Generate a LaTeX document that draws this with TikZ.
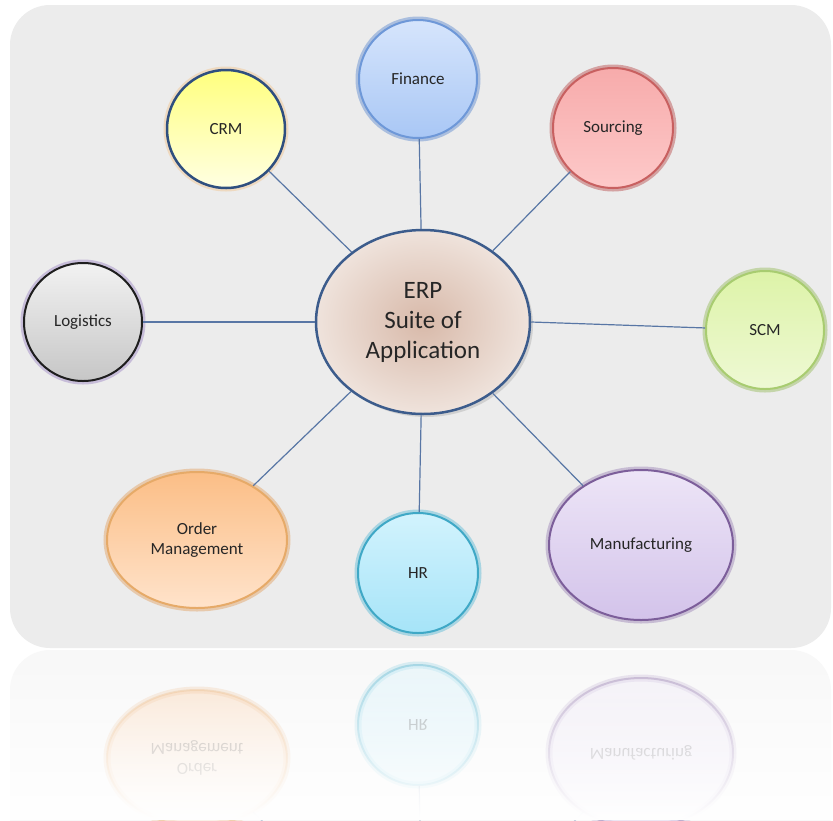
\documentclass[tikz,border=0pt]{standalone}
\usepackage{fontspec}
\setmainfont{Carlito}
\usepackage{tikz}
\usetikzlibrary{shapes,shadows,fadings}
\pgfdeclarelayer{background layer}
\pgfsetlayers{background layer,main}
\definecolor{panel}{RGB}{236,236,236}
\definecolor{ink}{RGB}{38,38,38}
\definecolor{linkblue}{RGB}{88,118,165}
\definecolor{erpin}{HTML}{D8B9A9}
\definecolor{erpout}{HTML}{EFE3DC}
\definecolor{erprim}{HTML}{3C5C8C}
\definecolor{crmtop}{HTML}{FFFF7E}
\definecolor{crmbot}{HTML}{FFFFE2}
\definecolor{crmrim}{HTML}{2F4F7F}
\definecolor{crmglow}{HTML}{F2C48C}
\definecolor{fintop}{HTML}{D6E5FC}
\definecolor{finbot}{HTML}{A9C7F5}
\definecolor{finrim}{HTML}{6E98D8}
\definecolor{finglow}{HTML}{5A88CF}
\definecolor{srctop}{HTML}{F7ABAB}
\definecolor{srcbot}{HTML}{FDC9C9}
\definecolor{srcrim}{HTML}{C86060}
\definecolor{srcglow}{HTML}{B84848}
\definecolor{logtop}{HTML}{F2F2F2}
\definecolor{logbot}{HTML}{C6C6C6}
\definecolor{logrim}{HTML}{1E1E1E}
\definecolor{logglow}{HTML}{9C84C4}
\definecolor{scmtop}{HTML}{DDF3A8}
\definecolor{scmbot}{HTML}{EEF9D4}
\definecolor{scmrim}{HTML}{A8CC70}
\definecolor{scmglow}{HTML}{94BA58}
\definecolor{ordtop}{HTML}{FBBE86}
\definecolor{ordbot}{HTML}{FFE3CB}
\definecolor{ordrim}{HTML}{E6AA68}
\definecolor{ordglow}{HTML}{E2A060}
\definecolor{mfgtop}{HTML}{EDE5F7}
\definecolor{mfgbot}{HTML}{D3C3EA}
\definecolor{mfgrim}{HTML}{7C5E9A}
\definecolor{mfgglow}{HTML}{9A82B6}
\definecolor{hrtop}{HTML}{D2F3FD}
\definecolor{hrbot}{HTML}{A6E4F8}
\definecolor{hrrim}{HTML}{3FA8C6}
\definecolor{hrglow}{HTML}{58BAD6}
\tikzset{glow/.style={preaction={draw=#1,line width=7pt,opacity=0.45}}}

\begin{document}
\begin{tikzpicture}[x=1pt,y=-1pt]
\tikzstyle{bubble}=[circle,minimum size=118pt,inner sep=0pt,line width=2pt,text=ink,align=center,font=\fontsize{17}{20}\selectfont]
\tikzstyle{oval}=[ellipse,inner sep=0pt,line width=2pt,text=ink,align=center,font=\fontsize{17}{20}\selectfont]
\tikzstyle{link}=[linkblue,line width=1.2pt]
\useasboundingbox (0,0) rectangle (833,820);
\node [ellipse,minimum width=214pt,minimum height=184pt,inner sep=0pt,line width=2.5pt,draw=erprim,inner color=erpin,outer color=erpout,drop shadow={shadow xshift=3pt,shadow yshift=-3pt,opacity=0.25},text=ink,align=center,font=\fontsize{25}{30}\selectfont] at (423,322) (erp) {ERP\\Suite of\\Application};
\node [bubble,line width=2.5pt,draw=crmrim,glow=crmglow,top color=crmtop,bottom color=crmbot] at (226,129) (crm) {CRM};
\node [bubble,draw=finrim,glow=finglow,top color=fintop,bottom color=finbot] at (418,79) (fin) {Finance};
\node [bubble,minimum size=120pt,draw=srcrim,glow=srcglow,top color=srctop,bottom color=srcbot] at (613,128) (src) {Sourcing};
\node [bubble,draw=logrim,glow=logglow,top color=logtop,bottom color=logbot] at (83,322) (log) {Logistics};
\node [bubble,draw=scmrim,glow=scmglow,top color=scmtop,bottom color=scmbot] at (765,330) (scm) {SCM};
\node [oval,minimum width=180pt,minimum height=136pt,draw=ordrim,glow=ordglow,top color=ordtop,bottom color=ordbot] at (197,540) (ord) {Order\\Management};
\node [bubble,minimum size=120pt,draw=hrrim,glow=hrglow,top color=hrtop,bottom color=hrbot] at (418,573) (hr) {HR};
\node [oval,minimum width=184pt,minimum height=150pt,draw=mfgrim,glow=mfgglow,top color=mfgtop,bottom color=mfgbot] at (641,545) (mfg) {Manufacturing};
\draw [link] (erp) -- (crm);
\draw [link] (erp) -- (fin);
\draw [link] (erp) -- (src);
\draw [link] (erp) -- (log);
\draw [link] (erp.east) -- (scm);
\draw [link] (erp) -- (ord);
\draw [link] (erp) -- (hr);
\draw [link] (erp) -- (mfg);
\begin{scope}
\clip (0,650) rectangle (833,820);
\begin{scope}[shift={(0,1298)},yscale=-1,transform shape,opacity=0.35]
\fill [panel,rounded corners=40pt] (10,5) rectangle (831,648);
\coordinate (rerp) at (423,322);
\node [oval,minimum width=180pt,minimum height=136pt,draw=ordrim,glow={ordglow!50},top color=ordtop,bottom color=ordbot] at (197,540) (rord) {Order\\Management};
\node [bubble,minimum size=120pt,draw=hrrim,glow={hrglow!50},top color=hrtop,bottom color=hrbot] at (418,573) (rhr) {HR};
\node [oval,minimum width=184pt,minimum height=150pt,draw=mfgrim,glow={mfgglow!50},top color=mfgtop,bottom color=mfgbot] at (641,545) (rmfg) {Manufacturing};
\draw [link] (rerp) -- (rord);
\draw [link] (rerp) -- (rhr);
\draw [link] (rerp) -- (rmfg);
\end{scope}
\fill [white,path fading=north] (0,650) rectangle (833,820);
\end{scope}
\begin{pgfonlayer}{background layer}
\fill [white] (0,0) rectangle (833,820);
\fill [panel,rounded corners=40pt] (10,5) rectangle (831,648);
\end{pgfonlayer}
\end{tikzpicture}
\end{document}
